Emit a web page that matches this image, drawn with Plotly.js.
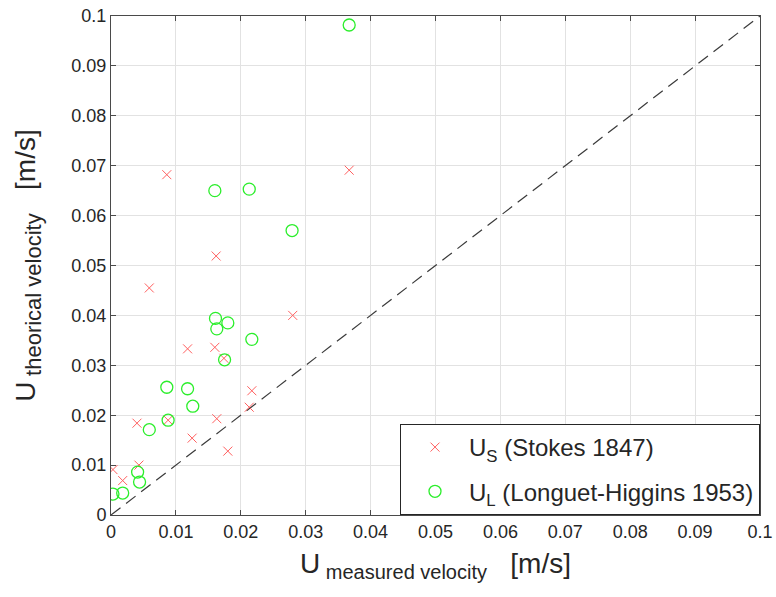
<!DOCTYPE html>
<html><head><meta charset="utf-8">
<script src="https://cdn.plot.ly/plotly-3.0.1.min.js"></script>
<style>html,body{margin:0;padding:0;background:#fff}#chart{width:776px;height:597px}</style>
</head><body><div id="chart"></div>
<script>
const stokesX = [0.0086, 0.0367, 0.0162, 0.0059, 0.0280, 0.0118, 0.0160, 0.0174, 0.0217, 0.0213, 0.0040, 0.0088, 0.0163, 0.0125, 0.0180, 0.0003, 0.0043, 0.0018];
const stokesY = [0.0682, 0.0691, 0.0519, 0.0455, 0.0400, 0.0333, 0.0336, 0.0314, 0.0249, 0.0216, 0.0184, 0.0190, 0.0193, 0.0154, 0.0128, 0.0091, 0.0100, 0.0069];
const lhX = [0.0367, 0.0160, 0.0213, 0.0279, 0.0161, 0.0180, 0.0163, 0.0217, 0.0175, 0.0086, 0.0118, 0.0126, 0.0088, 0.0059, 0.0041, 0.0044, 0.0003, 0.0018];
const lhY = [0.0982, 0.0650, 0.0653, 0.0570, 0.0394, 0.0385, 0.0373, 0.0352, 0.0311, 0.0256, 0.0253, 0.0218, 0.0190, 0.0171, 0.0086, 0.0066, 0.0042, 0.0044];
const refLine = [0, 0.1];
const tickVals = [0, 0.01, 0.02, 0.03, 0.04, 0.05, 0.06, 0.07, 0.08, 0.09, 0.1];
const tickText = ["0", "0.01", "0.02", "0.03", "0.04", "0.05", "0.06", "0.07", "0.08", "0.09", "0.1"];

const font = "Liberation Sans, Arial, sans-serif";
const red = 'rgb(255,95,95)';
const green = '#2bee2b';
const traces = [
  {x: refLine, y: refLine, mode: 'lines', showlegend: false, hoverinfo: 'skip',
   line: {color: '#3a3a3a', width: 1.2, dash: '12px,7px'}},
  {x: stokesX, y: stokesY, mode: 'markers', name: 'U<sub>S</sub> (Stokes 1847)', legendgroup: 'a',
   marker: {symbol: 'x-thin-open', size: 9, color: red, line: {color: red, width: 1}}},
  {x: lhX, y: lhY, mode: 'markers', name: 'U<sub>L</sub> (Longuet-Higgins 1953)', legendgroup: 'b',
   marker: {symbol: 'circle-open', size: 12, color: green, line: {color: green, width: 1.3}}}
];
const axisCommon = {
  range: [0, 0.1], tickvals: tickVals, ticktext: tickText,
  showgrid: true, gridcolor: '#e2e2e2', gridwidth: 1,
  showline: true, linecolor: '#4a4a4a', linewidth: 1, mirror: 'ticks',
  ticks: 'inside', ticklen: 5, tickcolor: '#4a4a4a', zeroline: false,
  tickfont: {family: font, size: 18, color: '#262626'}
};
const titleText = (main, subSize) => 'U\u2009<sub><span style="font-size:' + subSize + 'px">' + main + '</span></sub>\u00a0\u00a0\u00a0<span style="font-size:28px">[m/s]</span>';
const layout = {
  width: 776, height: 597,
  margin: {l: 110.5, r: 15.5, t: 15.5, b: 81.5},
  paper_bgcolor: '#fff', plot_bgcolor: '#fff',
  xaxis: Object.assign({}, axisCommon, {
    title: {text: titleText('measured velocity', 20), font: {family: font, size: 28, color: '#262626'}, standoff: 12}
  }),
  yaxis: Object.assign({}, axisCommon, {
    title: {text: titleText('theorical velocity', 22), font: {family: font, size: 28, color: '#262626'}, standoff: 27}
  }),
  legend: {x: 1, y: 0, xanchor: 'right', yanchor: 'bottom', bgcolor: '#fff',
    bordercolor: '#262626', borderwidth: 1, font: {family: font, size: 24, color: '#262626'},
    itemwidth: 58, traceorder: 'grouped', tracegroupgap: 10},
  showlegend: true
};
Plotly.newPlot('chart', traces, layout, {displayModeBar: false, staticPlot: true});
</script></body></html>
